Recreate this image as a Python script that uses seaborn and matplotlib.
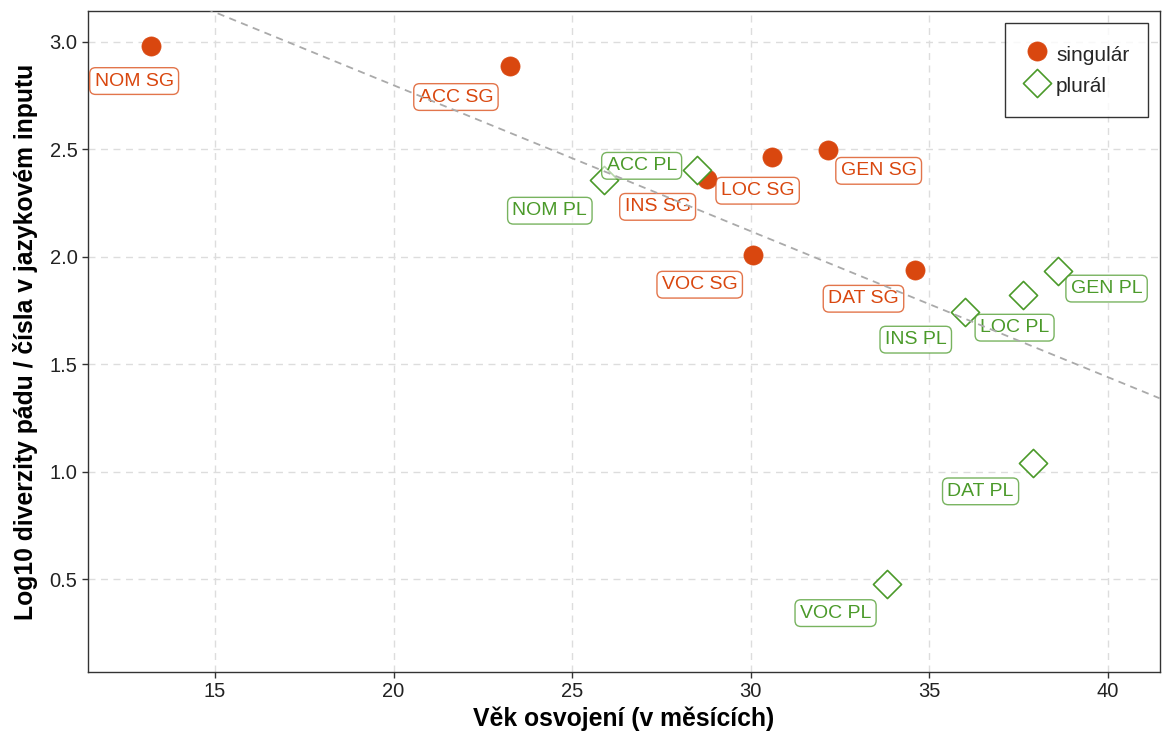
import numpy as np
import pandas as pd
import matplotlib
matplotlib.use("Agg")
import matplotlib.pyplot as plt
import seaborn as sns

# Case labels
sg_cases = ["NOM SG", "ACC SG", "INS SG", "LOC SG", "GEN SG", "VOC SG", "DAT SG"]
pl_cases = ["NOM PL", "ACC PL", "GEN PL", "LOC PL", "INS PL", "DAT PL", "VOC PL"]

# Age of acquisition (months)
sg_age = [13.21, 23.26, 28.77, 30.59, 32.16, 30.06, 34.62]
pl_age = [25.89, 28.49, 38.60, 37.62, 36.00, 37.90, 33.81]

# Log10 diversity of case / number in the input
sg_div = [2.981, 2.888, 2.363, 2.466, 2.498, 2.010, 1.940]
pl_div = [2.359, 2.405, 1.936, 1.824, 1.745, 1.039, 0.477]

# Label offsets (pixels, right / up) so the boxes do not overlap
sg_offsets = [(-17, -35), (-54, -31), (-49, -28), (-14, -34), (51, -21), (-53, -30), (-52, -29)]
pl_offsets = [(-54, -31), (-55, 4), (49, -18), (-8, -33), (-49, -28), (-52, -28), (-51, -29)]

ORANGE = "#D9470F"
GREEN = "#4B9A2A"

sns.set_theme(style="white")
plt.rcParams["font.family"] = ["Liberation Sans", "DejaVu Sans"]

df_sg = pd.DataFrame({"case": sg_cases, "age": sg_age, "div": sg_div})
df_pl = pd.DataFrame({"case": pl_cases, "age": pl_age, "div": pl_div})
df_all = pd.concat([df_sg, df_pl], ignore_index=True)

fig = plt.figure(figsize=(11.62, 7.35), dpi=100)
ax = fig.add_axes([0.0757, 0.0857, 0.9223, 0.8993])
ax.set_xlim(11.44, 41.46)
ax.set_ylim(0.068, 3.144)

ax.set_xticks([15, 20, 25, 30, 35, 40])
ax.set_yticks([0.5, 1.0, 1.5, 2.0, 2.5, 3.0])
ax.set_yticklabels(["0.5", "1.0", "1.5", "2.0", "2.5", "3.0"])
ax.grid(True, color="#DDDDDD", linestyle=(0, (5, 4)), linewidth=1.0)
ax.set_axisbelow(True)

sns.scatterplot(data=df_sg, x="age", y="div", ax=ax, color=ORANGE, marker="o",
                s=190, edgecolor=ORANGE, linewidth=0.5, label="singulár", zorder=3)
sns.scatterplot(data=df_pl, x="age", y="div", ax=ax, marker="D", s=205,
                facecolor="white", edgecolor=GREEN, linewidth=1.2,
                label="plurál", zorder=3)


def add_labels(df, offsets, color):
    for (_, row), (dx, dy) in zip(df.iterrows(), offsets):
        ax.annotate(row["case"], (row["age"], row["div"]),
                    xytext=(dx, dy), textcoords="offset pixels",
                    ha="center", va="center", fontsize=14, color=color,
                    zorder=4,
                    bbox=dict(boxstyle="round,pad=0.25,rounding_size=0.3",
                              facecolor=(1, 1, 1, 0.6),
                              edgecolor=matplotlib.colors.to_rgba(color, 0.75),
                              linewidth=1.0))


add_labels(df_sg, sg_offsets, ORANGE)
add_labels(df_pl, pl_offsets, GREEN)

# OLS trend line over all points, drawn on top of the labels
sns.regplot(data=df_all, x="age", y="div", ax=ax, scatter=False, ci=None,
            truncate=False,
            line_kws=dict(color="#AAAAAA", linestyle=(0, (4, 3)), linewidth=1.3,
                          zorder=6))

ax.set_xlabel("Věk osvojení (v měsících)", fontsize=17.8, fontweight="bold",
              color="black", labelpad=4)
ax.set_ylabel("Log10 diverzity pádu / čísla v jazykovém inputu", fontsize=17.8,
              fontweight="bold", color="black", labelpad=8)
ax.tick_params(axis="both", labelsize=14.5, colors="#333333", labelcolor="#222222",
               length=4, width=1, left=True, bottom=True)

for sp in ax.spines.values():
    sp.set_color("#333333")
    sp.set_linewidth(1.0)

leg = ax.legend(loc="upper right", bbox_to_anchor=(0.9888, 0.9818), fontsize=15,
                frameon=True, fancybox=False, edgecolor="black",
                borderpad=0.88, labelspacing=0.25, handleheight=1.54,
                handlelength=1.3, handletextpad=0.25, borderaxespad=0)
leg.get_frame().set_linewidth(1.0)

fig.savefig("out.png", dpi=100)
